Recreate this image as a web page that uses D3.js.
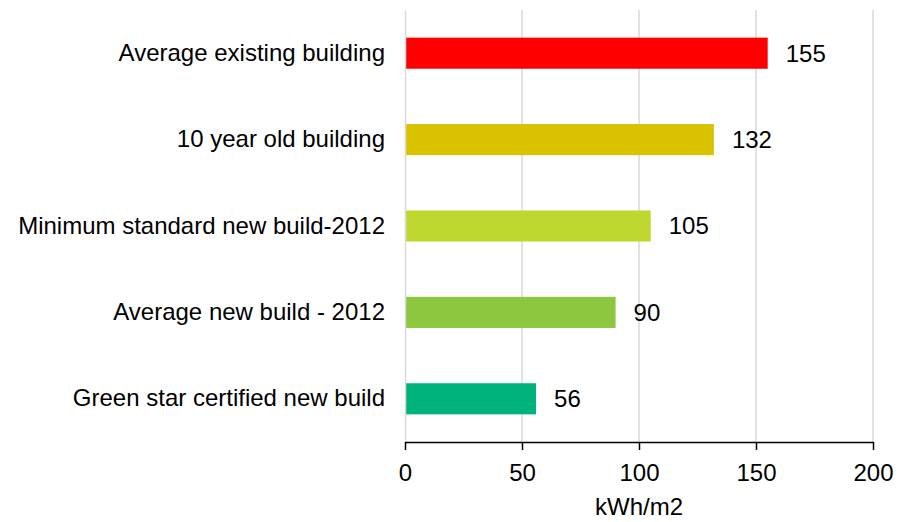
<!DOCTYPE html>
<html>
<head>
<meta charset="utf-8">
<script src="https://cdn.jsdelivr.net/npm/d3@7"></script>
<style>
  body { margin: 0; background: #fff; }
  text { font-family: "Liberation Sans", Arial, sans-serif; fill: #000; }
</style>
</head>
<body>
<svg id="chart" width="906" height="522"></svg>
<script>
// Data
const categories = [
    "Average existing building",
    "10 year old building",
    "Minimum standard new build-2012",
    "Average new build - 2012",
    "Green star certified new build"
];
const values = [155, 132, 105, 90, 56];
const barColors = ["#FF0000", "#D9C200", "#C0D730", "#8DC63F", "#00B37D"];
const xTicks = [0, 50, 100, 150, 200];

const svg = d3.select("#chart");
const margin = { t: 10, r: 33, b: 80, l: 405 };
const width = 906 - margin.l - margin.r;
const height = 522 - margin.t - margin.b;
const fontSize = "24px";

const g = svg.append("g")
    .attr("transform", "translate(" + [margin.l, margin.t] + ")");

const x = d3.scaleLinear().domain([0, 200]).range([0, width]);
const y = d3.scaleBand()
    .domain(categories)
    .range([0, height])
    .paddingInner(0.64)
    .paddingOuter(0.32);

// gridlines
g.append("g").selectAll("line")
    .data(xTicks.slice(1))
    .enter().append("line")
    .attr("x1", d => x(d)).attr("x2", d => x(d))
    .attr("y1", 0).attr("y2", height)
    .attr("stroke", "#D9D9D9")
    .attr("stroke-width", 1.5);

// bars
g.selectAll(".bar")
    .data(values)
    .enter().append("rect")
    .attr("class", "bar")
    .attr("x", x(0))
    .attr("y", (d, i) => y(categories[i]))
    .attr("width", d => x(d) - x(0))
    .attr("height", y.bandwidth())
    .attr("fill", (d, i) => barColors[i]);

// value labels
g.selectAll(".val")
    .data(values)
    .enter().append("text")
    .attr("class", "val")
    .attr("x", d => x(d) + 18)
    .attr("y", (d, i) => y(categories[i]) + y.bandwidth() / 2)
    .attr("dy", "0.35em")
    .style("font-size", fontSize)
    .text(d => d);

// y axis (category labels, with left gridline)
const yAxis = g.append("g")
    .call(d3.axisLeft(y).tickSize(0).tickPadding(20));
yAxis.select(".domain")
    .attr("stroke", "#D9D9D9")
    .attr("stroke-width", 1.5);
yAxis.selectAll("text")
    .style("font-family", "'Liberation Sans', Arial, sans-serif")
    .style("font-size", fontSize);

// x axis
const xAxis = g.append("g")
    .attr("transform", "translate(0," + height + ")")
    .call(d3.axisBottom(x).tickValues(xTicks).tickSize(8).tickPadding(14).tickSizeOuter(0));
xAxis.select(".domain").attr("stroke", "#000").attr("stroke-width", 1.5);
xAxis.selectAll(".tick line").attr("stroke", "#000").attr("stroke-width", 1.5);
xAxis.selectAll("text")
    .style("font-family", "'Liberation Sans', Arial, sans-serif")
    .style("font-size", fontSize);

// axis title
g.append("text")
    .attr("x", width / 2)
    .attr("y", height + 73)
    .attr("text-anchor", "middle")
    .style("font-size", fontSize)
    .text("kWh/m2");
</script>
</body>
</html>
